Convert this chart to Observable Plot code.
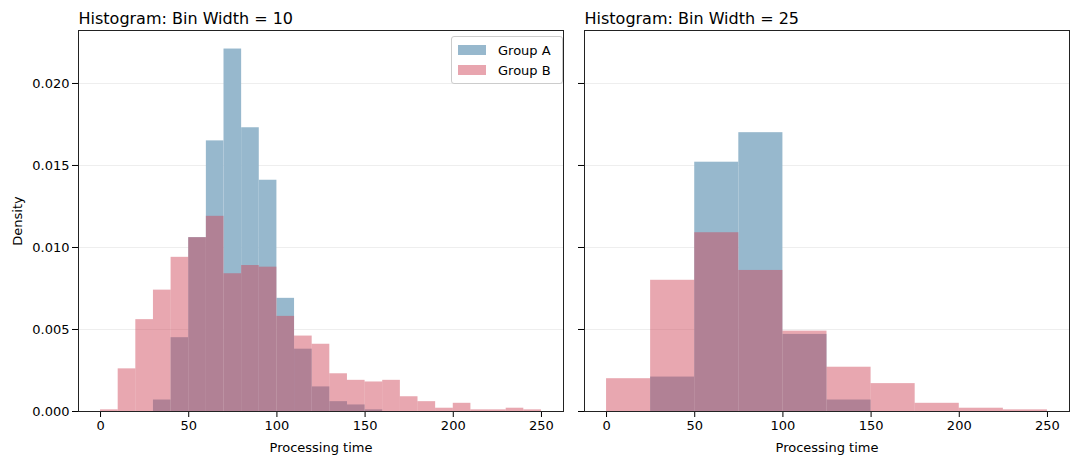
<!DOCTYPE html>
<html><head>
<script src="https://cdn.jsdelivr.net/npm/d3@7"></script>
<script src="https://cdn.jsdelivr.net/npm/@observablehq/plot@0.6"></script>
<style>
body{margin:0;background:#fff;font-family:"DejaVu Sans",sans-serif;}
#wrap{position:relative;width:1080px;height:463px;}
#wrap svg{position:absolute;top:0;}
.legend{position:absolute;left:451px;top:36px;width:98px;border:1px solid #ccc;border-radius:3px;background:#fff;font-size:13px;padding:3px 6px;}
.legend div{display:flex;align-items:center;height:20px;}
.legend span{display:inline-block;width:28px;height:10px;margin-right:12px;}
</style></head><body>
<div id="wrap"><div class="legend"><div><span style="background:#97b8cd"></span>Group A</div><div><span style="background:#e8a5af"></span>Group B</div></div></div>
<script>
const edges10 = d3.range(0, 251, 10);
const groupA10 = [0,0,0,0.0007,0.0045,0.0106,0.0165,0.0221,0.0173,0.0141,0.0069,0.0038,0.0015,0.0006,0.0004,0.0001,0,0,0,0,0,0,0,0,0];
const groupB10 = [0.0001,0.0026,0.0056,0.0074,0.0094,0.0106,0.0119,0.0084,0.0089,0.0088,0.0058,0.0046,0.0041,0.0023,0.0019,0.0018,0.0019,0.0009,0.0006,0.0002,0.0005,0.0001,0.0001,0.0002,0.0001];
const edges25 = d3.range(0, 251, 25);
const groupA25 = [0,0.0021,0.0152,0.0170,0.0047,0.0007,0,0,0,0];
const groupB25 = [0.0020,0.0080,0.0109,0.0086,0.0049,0.0027,0.0017,0.0005,0.0002,0.0001];
const yTicks = [0,0.005,0.010,0.015,0.020];
const xTicks = [0,50,100,150,200,250];

function rows(edges, vals){return vals.map((v,i)=>({x1:edges[i],x2:edges[i+1],y:v}));}

function panel(title, edges, a, b, width, ml, showY){
  return Plot.plot({
    width, height:463, marginLeft:ml, marginRight:width-ml-485, marginTop:30, marginBottom:52,
    style:{fontFamily:"DejaVu Sans, sans-serif", fontSize:"13px", color:"#000", overflow:"visible"},
    x:{domain:[-12.5,262.5], ticks:xTicks, tickFormat:d=>d, label:"Processing time", labelAnchor:"center", labelArrow:"none", labelOffset:40},
    y:{domain:[0,0.02323], ticks:yTicks, tickFormat:showY?(d=>d.toFixed(3)):()=>"", label:showY?"Density":null, labelAnchor:"center", labelArrow:"none", labelOffset:66},
    marks:[
      Plot.ruleY(yTicks.slice(1),{stroke:"#eee"}),
      Plot.rectY(rows(edges,a),{x1:"x1",x2:"x2",y:"y",fill:"#97b8cd",inset:0}),
      Plot.rectY(rows(edges,b),{x1:"x1",x2:"x2",y:"y",fill:"#cf4358",fillOpacity:0.47,inset:0}),
      Plot.frame({stroke:"#222"}),
      Plot.text([title],{frameAnchor:"top-left",dy:-7,text:d=>d,fontSize:16,textAnchor:"start",lineAnchor:"bottom"})
    ]
  });
}
const wrap = document.getElementById("wrap");
const p1 = panel("Histogram: Bin Width = 10", edges10, groupA10, groupB10, 570, 78, true);
p1.style.left="0px";
const p2 = panel("Histogram: Bin Width = 25", edges25, groupA25, groupB25, 512, 19, false);
p2.style.left="565px";
wrap.prepend(p2); wrap.prepend(p1);
</script></body></html>
